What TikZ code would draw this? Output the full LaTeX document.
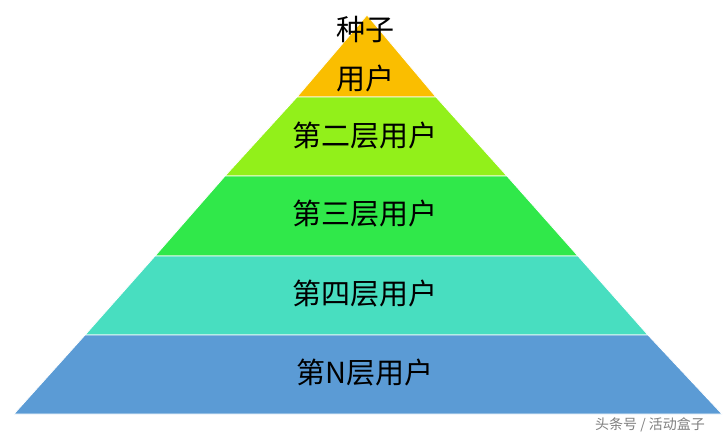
\documentclass[tikz,border=0pt]{standalone}
\usepackage{fontspec}
\newfontfamily\cjk{Noto Sans CJK SC}
\begin{document}
\begin{tikzpicture}[x=1pt,y=-1pt,
  layer/.style={draw=white,line width=0.8pt},
  lbl/.style={font=\cjk\fontsize{29}{32}\selectfont,text=black,inner sep=0pt}]
\useasboundingbox (0,0) rectangle (728,440);
\fill[white] (0,0) rectangle (728,440);
\coordinate (apex) at (367,15);
\draw[layer,fill={rgb,255:red,250;green,190;blue,0}] (apex) -- (436,97) -- (297,97) -- cycle;
\draw[layer,fill={rgb,255:red,146;green,240;blue,26}] (297,97) -- (436,97) -- (507,176) -- (225,176) -- cycle;
\draw[layer,fill={rgb,255:red,48;green,232;blue,74}] (225,176) -- (507,176) -- (578,256) -- (155,256) -- cycle;
\draw[layer,fill={rgb,255:red,72;green,222;blue,192}] (155,256) -- (578,256) -- (648,335) -- (85,335) -- cycle;
\draw[layer,fill={rgb,255:red,91;green,155;blue,213}] (85,335) -- (648,335) -- (722,414) -- (14,414) -- cycle;
\node[lbl] (t0) at (365,30) {种子};
\node[lbl] (t1) at (365,78) {用户};
\node[lbl] (t2) at (365,136) {第二层用户};
\node[lbl] (t3) at (365,214) {第三层用户};
\node[lbl] (t4) at (365,294) {第四层用户};
\node[lbl] (t5) at (365,373) {第N层用户};
\node[font=\cjk\fontsize{14}{16}\selectfont,text=gray,inner sep=0pt] (wm) at (650,425) {头条号 / 活动盒子};
\end{tikzpicture}
\end{document}
